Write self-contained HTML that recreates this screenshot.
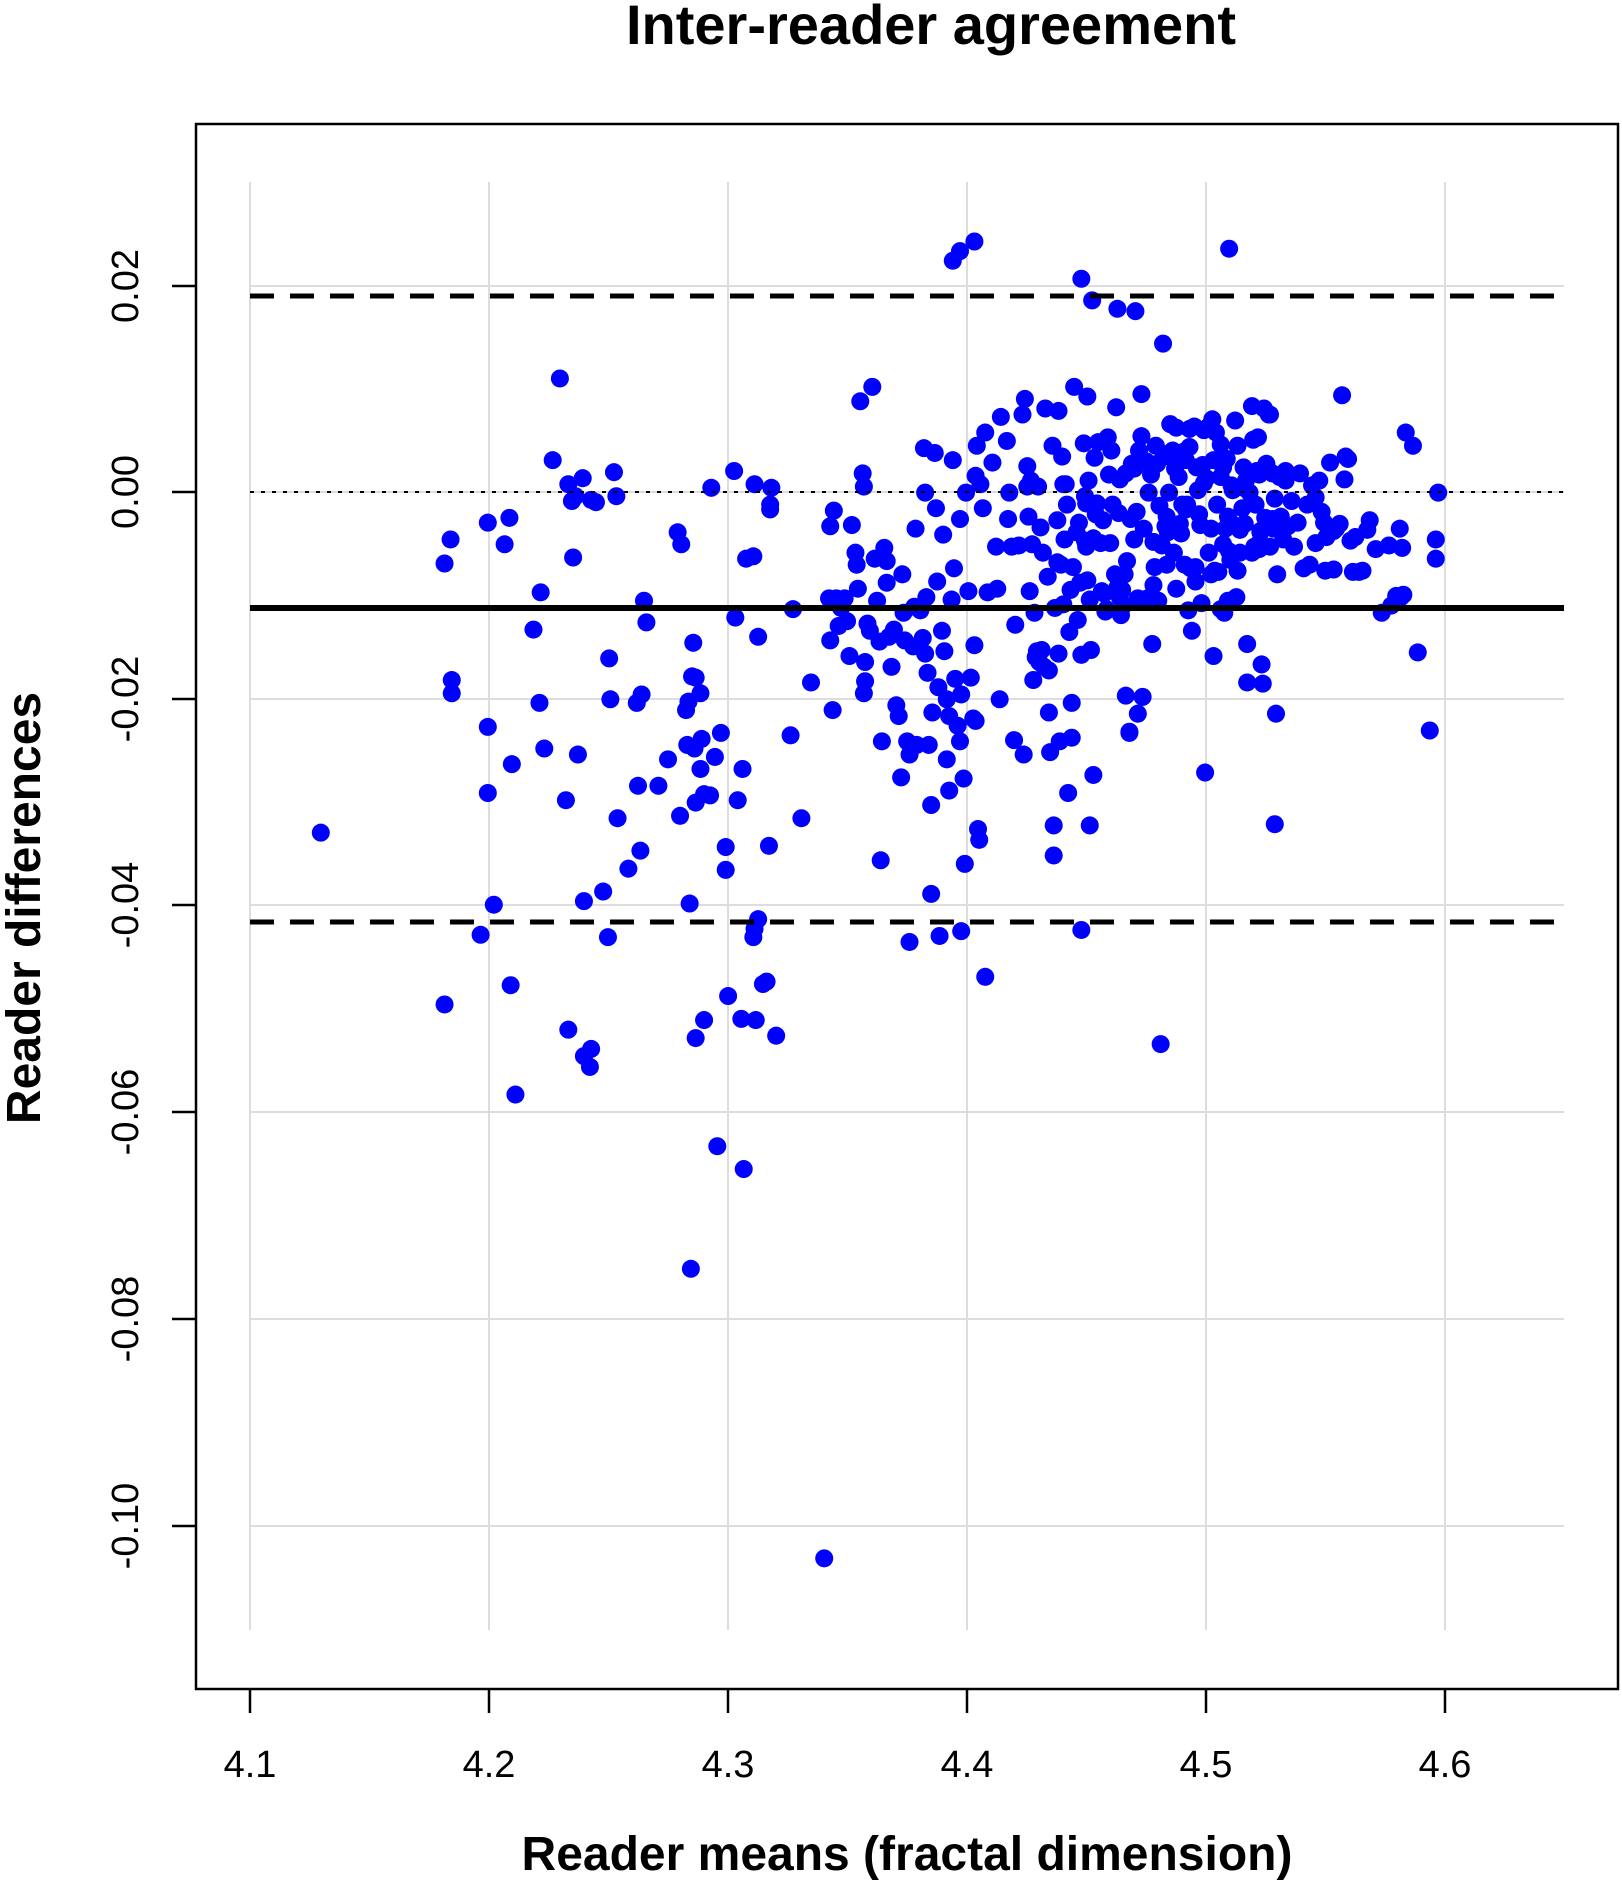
<!DOCTYPE html>
<html><head><meta charset="utf-8"><style>
html,body{margin:0;padding:0;background:#fff;}
svg{display:block;}
text{font-family:"Liberation Sans",Arial,sans-serif;fill:#000;}
</style></head><body>
<svg width="1622" height="1888" viewBox="0 0 1622 1888" xmlns="http://www.w3.org/2000/svg">
<rect width="1622" height="1888" fill="#fff"/>
<text x="931" y="44" font-size="56" font-weight="bold" text-anchor="middle">Inter-reader agreement</text>
<g stroke="#dddddd" stroke-width="2">
<line x1="250" y1="182" x2="250" y2="1630"/><line x1="489" y1="182" x2="489" y2="1630"/>
<line x1="728" y1="182" x2="728" y2="1630"/><line x1="967" y1="182" x2="967" y2="1630"/>
<line x1="1206" y1="182" x2="1206" y2="1630"/><line x1="1445" y1="182" x2="1445" y2="1630"/>
<line x1="250" y1="286" x2="1564" y2="286"/><line x1="250" y1="492" x2="1564" y2="492"/>
<line x1="250" y1="699" x2="1564" y2="699"/><line x1="250" y1="905" x2="1564" y2="905"/>
<line x1="250" y1="1112" x2="1564" y2="1112"/><line x1="250" y1="1319" x2="1564" y2="1319"/>
<line x1="250" y1="1526" x2="1564" y2="1526"/>
</g>
<g transform="scale(1.2015)" fill="#0000ff">
<circle cx="267" cy="693" r="7.5"/><circle cx="370" cy="469" r="7.5"/><circle cx="375" cy="449" r="7.5"/><circle cx="376" cy="566" r="7.5"/><circle cx="376" cy="577" r="7.5"/><circle cx="370" cy="836" r="7.5"/><circle cx="406" cy="435" r="7.5"/><circle cx="420" cy="453" r="7.5"/><circle cx="424" cy="431" r="7.5"/><circle cx="406" cy="605" r="7.5"/><circle cx="406" cy="660" r="7.5"/><circle cx="411" cy="753" r="7.5"/><circle cx="400" cy="778" r="7.5"/><circle cx="426" cy="636" r="7.5"/><circle cx="425" cy="820" r="7.5"/><circle cx="429" cy="911" r="7.5"/><circle cx="444" cy="524" r="7.5"/><circle cx="450" cy="493" r="7.5"/><circle cx="449" cy="585" r="7.5"/><circle cx="453" cy="623" r="7.5"/><circle cx="460" cy="383" r="7.5"/><circle cx="466" cy="315" r="7.5"/><circle cx="471" cy="666" r="7.5"/><circle cx="473" cy="403" r="7.5"/><circle cx="476" cy="417" r="7.5"/><circle cx="477" cy="464" r="7.5"/><circle cx="479" cy="413" r="7.5"/><circle cx="481" cy="628" r="7.5"/><circle cx="485" cy="398" r="7.5"/><circle cx="486" cy="750" r="7.5"/><circle cx="492" cy="416" r="7.5"/><circle cx="496" cy="418" r="7.5"/><circle cx="486" cy="879" r="7.5"/><circle cx="492" cy="873" r="7.5"/><circle cx="491" cy="888" r="7.5"/><circle cx="473" cy="857" r="7.5"/><circle cx="502" cy="742" r="7.5"/><circle cx="507" cy="548" r="7.5"/><circle cx="508" cy="582" r="7.5"/><circle cx="506" cy="780" r="7.5"/><circle cx="511" cy="393" r="7.5"/><circle cx="513" cy="413" r="7.5"/><circle cx="514" cy="681" r="7.5"/><circle cx="523" cy="723" r="7.5"/><circle cx="530" cy="585" r="7.5"/><circle cx="531" cy="654" r="7.5"/><circle cx="533" cy="708" r="7.5"/><circle cx="534" cy="578" r="7.5"/><circle cx="536" cy="500" r="7.5"/><circle cx="538" cy="518" r="7.5"/><circle cx="548" cy="654" r="7.5"/><circle cx="556" cy="632" r="7.5"/><circle cx="564" cy="443" r="7.5"/><circle cx="567" cy="453" r="7.5"/><circle cx="566" cy="679" r="7.5"/><circle cx="571" cy="591" r="7.5"/><circle cx="572" cy="620" r="7.5"/><circle cx="573" cy="584" r="7.5"/><circle cx="577" cy="535" r="7.5"/><circle cx="579" cy="564" r="7.5"/><circle cx="583" cy="640" r="7.5"/><circle cx="576" cy="563" r="7.5"/><circle cx="578" cy="623" r="7.5"/><circle cx="579" cy="668" r="7.5"/><circle cx="583" cy="577" r="7.5"/><circle cx="584" cy="615" r="7.5"/><circle cx="586" cy="661" r="7.5"/><circle cx="591" cy="662" r="7.5"/><circle cx="574" cy="752" r="7.5"/><circle cx="575" cy="1056" r="7.5"/><circle cx="579" cy="864" r="7.5"/><circle cx="586" cy="849" r="7.5"/><circle cx="592" cy="406" r="7.5"/><circle cx="595" cy="630" r="7.5"/><circle cx="597" cy="954" r="7.5"/><circle cx="600" cy="610" r="7.5"/><circle cx="604" cy="705" r="7.5"/><circle cx="604" cy="724" r="7.5"/><circle cx="606" cy="829" r="7.5"/><circle cx="611" cy="392" r="7.5"/><circle cx="612" cy="514" r="7.5"/><circle cx="614" cy="666" r="7.5"/><circle cx="618" cy="640" r="7.5"/><circle cx="617" cy="848" r="7.5"/><circle cx="619" cy="973" r="7.5"/><circle cx="621" cy="465" r="7.5"/><circle cx="627" cy="463" r="7.5"/><circle cx="627" cy="780" r="7.5"/><circle cx="629" cy="849" r="7.5"/><circle cx="628" cy="403" r="7.5"/><circle cx="631" cy="530" r="7.5"/><circle cx="635" cy="819" r="7.5"/><circle cx="638" cy="817" r="7.5"/><circle cx="641" cy="420" r="7.5"/><circle cx="642" cy="406" r="7.5"/><circle cx="641" cy="424" r="7.5"/><circle cx="640" cy="704" r="7.5"/><circle cx="646" cy="862" r="7.5"/><circle cx="631" cy="765" r="7.5"/><circle cx="628" cy="773" r="7.5"/><circle cx="658" cy="612" r="7.5"/><circle cx="660" cy="507" r="7.5"/><circle cx="667" cy="681" r="7.5"/><circle cx="675" cy="568" r="7.5"/><circle cx="686" cy="1297" r="7.5"/><circle cx="691" cy="438" r="7.5"/><circle cx="691" cy="533" r="7.5"/><circle cx="693" cy="591" r="7.5"/><circle cx="690" cy="498" r="7.5"/><circle cx="694" cy="425" r="7.5"/>
<circle cx="696" cy="498" r="7.5"/><circle cx="698" cy="521" r="7.5"/><circle cx="700" cy="506" r="7.5"/><circle cx="703" cy="498" r="7.5"/><circle cx="705" cy="517" r="7.5"/><circle cx="707" cy="546" r="7.5"/><circle cx="709" cy="437" r="7.5"/><circle cx="712" cy="460" r="7.5"/><circle cx="713" cy="470" r="7.5"/><circle cx="714" cy="490" r="7.5"/><circle cx="716" cy="334" r="7.5"/><circle cx="718" cy="394" r="7.5"/><circle cx="719" cy="405" r="7.5"/><circle cx="719" cy="577" r="7.5"/><circle cx="720" cy="551" r="7.5"/><circle cx="720" cy="567" r="7.5"/><circle cx="722" cy="519" r="7.5"/><circle cx="724" cy="525" r="7.5"/><circle cx="726" cy="322" r="7.5"/><circle cx="728" cy="465" r="7.5"/><circle cx="730" cy="500" r="7.5"/><circle cx="732" cy="534" r="7.5"/><circle cx="733" cy="716" r="7.5"/><circle cx="734" cy="617" r="7.5"/><circle cx="736" cy="456" r="7.5"/><circle cx="738" cy="467" r="7.5"/><circle cx="738" cy="485" r="7.5"/><circle cx="740" cy="530" r="7.5"/><circle cx="742" cy="555" r="7.5"/><circle cx="744" cy="524" r="7.5"/><circle cx="746" cy="587" r="7.5"/><circle cx="748" cy="596" r="7.5"/><circle cx="750" cy="647" r="7.5"/><circle cx="751" cy="478" r="7.5"/><circle cx="752" cy="510" r="7.5"/><circle cx="753" cy="533" r="7.5"/><circle cx="755" cy="617" r="7.5"/><circle cx="757" cy="628" r="7.5"/><circle cx="757" cy="784" r="7.5"/><circle cx="760" cy="538" r="7.5"/><circle cx="761" cy="505" r="7.5"/><circle cx="762" cy="440" r="7.5"/><circle cx="763" cy="620" r="7.5"/><circle cx="766" cy="508" r="7.5"/><circle cx="768" cy="531" r="7.5"/><circle cx="769" cy="373" r="7.5"/><circle cx="770" cy="410" r="7.5"/><circle cx="770" cy="544" r="7.5"/><circle cx="771" cy="497" r="7.5"/><circle cx="772" cy="560" r="7.5"/><circle cx="773" cy="620" r="7.5"/><circle cx="775" cy="670" r="7.5"/><circle cx="775" cy="744" r="7.5"/><circle cx="776" cy="593" r="7.5"/><circle cx="778" cy="377" r="7.5"/><circle cx="779" cy="423" r="7.5"/><circle cx="780" cy="484" r="7.5"/><circle cx="781" cy="572" r="7.5"/><circle cx="782" cy="779" r="7.5"/><circle cx="784" cy="525" r="7.5"/><circle cx="785" cy="445" r="7.5"/><circle cx="786" cy="542" r="7.5"/><circle cx="788" cy="582" r="7.5"/><circle cx="788" cy="632" r="7.5"/><circle cx="790" cy="596" r="7.5"/><circle cx="790" cy="658" r="7.5"/><circle cx="792" cy="499" r="7.5"/><circle cx="793" cy="383" r="7.5"/><circle cx="794" cy="473" r="7.5"/><circle cx="795" cy="565" r="7.5"/><circle cx="797" cy="604" r="7.5"/><circle cx="799" cy="432" r="7.5"/><circle cx="799" cy="617" r="7.5"/><circle cx="800" cy="578" r="7.5"/><circle cx="800" cy="775" r="7.5"/><circle cx="802" cy="648" r="7.5"/><circle cx="803" cy="719" r="7.5"/><circle cx="804" cy="410" r="7.5"/><circle cx="806" cy="492" r="7.5"/><circle cx="808" cy="564" r="7.5"/><circle cx="810" cy="598" r="7.5"/><circle cx="811" cy="537" r="7.5"/><circle cx="812" cy="600" r="7.5"/><circle cx="812" cy="396" r="7.5"/><circle cx="813" cy="371" r="7.5"/><circle cx="814" cy="690" r="7.5"/><circle cx="815" cy="699" r="7.5"/><circle cx="816" cy="403" r="7.5"/><circle cx="818" cy="423" r="7.5"/><circle cx="820" cy="813" r="7.5"/><circle cx="820" cy="360" r="7.5"/><circle cx="822" cy="493" r="7.5"/><circle cx="826" cy="385" r="7.5"/><circle cx="829" cy="455" r="7.5"/><circle cx="830" cy="490" r="7.5"/><circle cx="832" cy="582" r="7.5"/><circle cx="833" cy="347" r="7.5"/><circle cx="838" cy="367" r="7.5"/><circle cx="839" cy="432" r="7.5"/><circle cx="840" cy="410" r="7.5"/><circle cx="842" cy="455" r="7.5"/><circle cx="844" cy="616" r="7.5"/><circle cx="845" cy="520" r="7.5"/><circle cx="848" cy="454" r="7.5"/><circle cx="851" cy="345" r="7.5"/><circle cx="852" cy="628" r="7.5"/><circle cx="853" cy="332" r="7.5"/><circle cx="855" cy="388" r="7.5"/><circle cx="856" cy="430" r="7.5"/><circle cx="857" cy="492" r="7.5"/><circle cx="858" cy="400" r="7.5"/><circle cx="859" cy="453" r="7.5"/><circle cx="860" cy="566" r="7.5"/><circle cx="861" cy="510" r="7.5"/><circle cx="863" cy="542" r="7.5"/><circle cx="864" cy="405" r="7.5"/><circle cx="866" cy="439" r="7.5"/><circle cx="867" cy="541" r="7.5"/><circle cx="868" cy="460" r="7.5"/><circle cx="869" cy="555" r="7.5"/><circle cx="870" cy="340" r="7.5"/><circle cx="872" cy="480" r="7.5"/><circle cx="873" cy="593" r="7.5"/><circle cx="874" cy="626" r="7.5"/><circle cx="876" cy="371" r="7.5"/><circle cx="877" cy="687" r="7.5"/><circle cx="877" cy="712" r="7.5"/><circle cx="878" cy="506" r="7.5"/><circle cx="880" cy="468" r="7.5"/><circle cx="880" cy="433" r="7.5"/><circle cx="881" cy="342" r="7.5"/><circle cx="882" cy="617" r="7.5"/><circle cx="883" cy="470" r="7.5"/><circle cx="884" cy="380" r="7.5"/><circle cx="885" cy="403" r="7.5"/><circle cx="886" cy="449" r="7.5"/><circle cx="887" cy="403" r="7.5"/><circle cx="888" cy="420" r="7.5"/><circle cx="889" cy="660" r="7.5"/><circle cx="890" cy="526" r="7.5"/><circle cx="891" cy="491" r="7.5"/><circle cx="892" cy="585" r="7.5"/><circle cx="893" cy="472" r="7.5"/><circle cx="894" cy="322" r="7.5"/><circle cx="896" cy="443" r="7.5"/><circle cx="897" cy="516" r="7.5"/><circle cx="898" cy="435" r="7.5"/><circle cx="899" cy="485" r="7.5"/><circle cx="900" cy="774" r="7.5"/><circle cx="900" cy="232" r="7.5"/><circle cx="902" cy="369" r="7.5"/><circle cx="903" cy="413" r="7.5"/><circle cx="904" cy="455" r="7.5"/><circle cx="905" cy="483" r="7.5"/><circle cx="906" cy="400" r="7.5"/><circle cx="907" cy="499" r="7.5"/><circle cx="908" cy="541" r="7.5"/><circle cx="909" cy="250" r="7.5"/><circle cx="910" cy="448" r="7.5"/><circle cx="911" cy="381" r="7.5"/><circle cx="912" cy="428" r="7.5"/><circle cx="913" cy="419" r="7.5"/><circle cx="914" cy="368" r="7.5"/><circle cx="916" cy="452" r="7.5"/><circle cx="917" cy="492" r="7.5"/><circle cx="918" cy="433" r="7.5"/><circle cx="919" cy="494" r="7.5"/><circle cx="920" cy="509" r="7.5"/><circle cx="921" cy="507" r="7.5"/><circle cx="922" cy="364" r="7.5"/><circle cx="923" cy="395" r="7.5"/><circle cx="924" cy="452" r="7.5"/><circle cx="926" cy="420" r="7.5"/><circle cx="928" cy="478" r="7.5"/><circle cx="929" cy="339" r="7.5"/><circle cx="930" cy="489" r="7.5"/><circle cx="931" cy="427" r="7.5"/><circle cx="932" cy="497" r="7.5"/><circle cx="933" cy="512" r="7.5"/><circle cx="934" cy="491" r="7.5"/><circle cx="936" cy="478" r="7.5"/><circle cx="937" cy="394" r="7.5"/><circle cx="938" cy="467" r="7.5"/><circle cx="940" cy="610" r="7.5"/><circle cx="941" cy="432" r="7.5"/><circle cx="942" cy="386" r="7.5"/><circle cx="944" cy="449" r="7.5"/><circle cx="945" cy="259" r="7.5"/><circle cx="947" cy="498" r="7.5"/><circle cx="948" cy="375" r="7.5"/><circle cx="950" cy="328" r="7.5"/><circle cx="951" cy="580" r="7.5"/><circle cx="952" cy="440" r="7.5"/><circle cx="954" cy="384" r="7.5"/><circle cx="955" cy="498" r="7.5"/><circle cx="956" cy="410" r="7.5"/><circle cx="958" cy="395" r="7.5"/><circle cx="959" cy="536" r="7.5"/><circle cx="960" cy="451" r="7.5"/><circle cx="961" cy="472" r="7.5"/><circle cx="962" cy="371" r="7.5"/><circle cx="963" cy="386" r="7.5"/><circle cx="964" cy="500" r="7.5"/><circle cx="965" cy="421" r="7.5"/><circle cx="967" cy="454" r="7.5"/><circle cx="968" cy="286" r="7.5"/><circle cx="969" cy="378" r="7.5"/><circle cx="970" cy="438" r="7.5"/><circle cx="971" cy="430" r="7.5"/><circle cx="972" cy="443" r="7.5"/><circle cx="973" cy="410" r="7.5"/><circle cx="974" cy="353" r="7.5"/><circle cx="975" cy="381" r="7.5"/><circle cx="976" cy="375" r="7.5"/><circle cx="977" cy="460" r="7.5"/><circle cx="978" cy="390" r="7.5"/><circle cx="979" cy="356" r="7.5"/><circle cx="981" cy="397" r="7.5"/><circle cx="982" cy="436" r="7.5"/><circle cx="983" cy="444" r="7.5"/><circle cx="984" cy="420" r="7.5"/><circle cx="985" cy="376" r="7.5"/><circle cx="986" cy="470" r="7.5"/><circle cx="987" cy="424" r="7.5"/><circle cx="988" cy="420" r="7.5"/><circle cx="989" cy="508" r="7.5"/><circle cx="990" cy="372" r="7.5"/><circle cx="991" cy="473" r="7.5"/><circle cx="992" cy="525" r="7.5"/><circle cx="994" cy="355" r="7.5"/><circle cx="995" cy="484" r="7.5"/><circle cx="996" cy="389" r="7.5"/><circle cx="998" cy="428" r="7.5"/><circle cx="1000" cy="502" r="7.5"/><circle cx="1001" cy="387" r="7.5"/><circle cx="1002" cy="402" r="7.5"/><circle cx="1004" cy="398" r="7.5"/><circle cx="1006" cy="355" r="7.5"/><circle cx="1008" cy="440" r="7.5"/><circle cx="1010" cy="383" r="7.5"/><circle cx="1011" cy="475" r="7.5"/><circle cx="1012" cy="360" r="7.5"/><circle cx="1013" cy="420" r="7.5"/><circle cx="1014" cy="476" r="7.5"/><circle cx="1016" cy="397" r="7.5"/><circle cx="1018" cy="453" r="7.5"/><circle cx="1019" cy="510" r="7.5"/><circle cx="1021" cy="382" r="7.5"/><circle cx="1022" cy="430" r="7.5"/><circle cx="1024" cy="466" r="7.5"/><circle cx="1025" cy="404" r="7.5"/><circle cx="1026" cy="408" r="7.5"/><circle cx="1027" cy="437" r="7.5"/><circle cx="1029" cy="497" r="7.5"/><circle cx="1030" cy="475" r="7.5"/><circle cx="1032" cy="441" r="7.5"/><circle cx="1034" cy="423" r="7.5"/><circle cx="1035" cy="406" r="7.5"/><circle cx="1036" cy="436" r="7.5"/><circle cx="1037" cy="400" r="7.5"/><circle cx="1038" cy="536" r="7.5"/><circle cx="1040" cy="410" r="7.5"/><circle cx="1042" cy="338" r="7.5"/><circle cx="1044" cy="455" r="7.5"/><circle cx="1045" cy="420" r="7.5"/><circle cx="1046" cy="392" r="7.5"/><circle cx="1047" cy="364" r="7.5"/><circle cx="1048" cy="452" r="7.5"/><circle cx="1049" cy="442" r="7.5"/><circle cx="1050" cy="553" r="7.5"/><circle cx="1051" cy="569" r="7.5"/><circle cx="1053" cy="431" r="7.5"/><circle cx="1054" cy="386" r="7.5"/><circle cx="1056" cy="345" r="7.5"/><circle cx="1057" cy="455" r="7.5"/><circle cx="1059" cy="394" r="7.5"/><circle cx="1060" cy="440" r="7.5"/><circle cx="1061" cy="415" r="7.5"/><circle cx="1062" cy="594" r="7.5"/><circle cx="1063" cy="478" r="7.5"/><circle cx="1065" cy="397" r="7.5"/><circle cx="1066" cy="430" r="7.5"/><circle cx="1068" cy="449" r="7.5"/><circle cx="1070" cy="400" r="7.5"/><circle cx="1072" cy="438" r="7.5"/><circle cx="1075" cy="417" r="7.5"/><circle cx="1077" cy="455" r="7.5"/><circle cx="1080" cy="435" r="7.5"/><circle cx="1082" cy="394" r="7.5"/><circle cx="1085" cy="473" r="7.5"/><circle cx="1088" cy="420" r="7.5"/><circle cx="1090" cy="470" r="7.5"/><circle cx="1092" cy="404" r="7.5"/><circle cx="1095" cy="414" r="7.5"/><circle cx="1098" cy="400" r="7.5"/><circle cx="1100" cy="426" r="7.5"/><circle cx="1102" cy="435" r="7.5"/><circle cx="1104" cy="447" r="7.5"/><circle cx="1107" cy="385" r="7.5"/><circle cx="1110" cy="442" r="7.5"/><circle cx="1112" cy="440" r="7.5"/><circle cx="1115" cy="436" r="7.5"/><circle cx="1117" cy="329" r="7.5"/><circle cx="1119" cy="399" r="7.5"/><circle cx="1120" cy="380" r="7.5"/><circle cx="1122" cy="382" r="7.5"/><circle cx="1124" cy="450" r="7.5"/><circle cx="1126" cy="476" r="7.5"/><circle cx="1128" cy="447" r="7.5"/><circle cx="1131" cy="476" r="7.5"/><circle cx="1134" cy="475" r="7.5"/><circle cx="1138" cy="441" r="7.5"/><circle cx="1140" cy="433" r="7.5"/><circle cx="1145" cy="457" r="7.5"/><circle cx="1156" cy="454" r="7.5"/><circle cx="1158" cy="504" r="7.5"/><circle cx="1162" cy="496" r="7.5"/><circle cx="1165" cy="440" r="7.5"/><circle cx="1168" cy="495" r="7.5"/><circle cx="1170" cy="360" r="7.5"/><circle cx="1176" cy="371" r="7.5"/><circle cx="1180" cy="543" r="7.5"/><circle cx="1190" cy="608" r="7.5"/><circle cx="1195" cy="449" r="7.5"/><circle cx="1195" cy="465" r="7.5"/><circle cx="1197" cy="410" r="7.5"/><circle cx="1003" cy="643" r="7.5"/><circle cx="1010" cy="546" r="7.5"/><circle cx="1016" cy="507" r="7.5"/><circle cx="1020" cy="440" r="7.5"/><circle cx="1023" cy="459" r="7.5"/><circle cx="1035" cy="389" r="7.5"/><circle cx="1030" cy="371" r="7.5"/><circle cx="1038" cy="568" r="7.5"/><circle cx="1048" cy="395" r="7.5"/><circle cx="1052" cy="340" r="7.5"/><circle cx="1057" cy="345" r="7.5"/><circle cx="1061" cy="686" r="7.5"/><circle cx="1059" cy="432" r="7.5"/><circle cx="1070" cy="392" r="7.5"/><circle cx="1023" cy="207" r="7.5"/><circle cx="966" cy="869" r="7.5"/><circle cx="940" cy="609" r="7.5"/><circle cx="937" cy="579" r="7.5"/><circle cx="935" cy="504" r="7.5"/><circle cx="932" cy="399" r="7.5"/><circle cx="925" cy="375" r="7.5"/><circle cx="910" cy="645" r="7.5"/><circle cx="907" cy="687" r="7.5"/><circle cx="905" cy="330" r="7.5"/><circle cx="904" cy="419" r="7.5"/><circle cx="903" cy="450" r="7.5"/><circle cx="900" cy="545" r="7.5"/><circle cx="892" cy="614" r="7.5"/><circle cx="885" cy="503" r="7.5"/><circle cx="881" cy="544" r="7.5"/><circle cx="873" cy="558" r="7.5"/><circle cx="865" cy="551" r="7.5"/><circle cx="862" cy="547" r="7.5"/><circle cx="855" cy="405" r="7.5"/><circle cx="930" cy="257" r="7.5"/><circle cx="947" cy="594" r="7.5"/><circle cx="990" cy="357" r="7.5"/><circle cx="1095" cy="452" r="7.5"/><circle cx="1103" cy="475" r="7.5"/><circle cx="1110" cy="474" r="7.5"/><circle cx="1150" cy="510" r="7.5"/><circle cx="1166" cy="497" r="7.5"/><circle cx="1167" cy="456" r="7.5"/><circle cx="1048" cy="457" r="7.5"/><circle cx="1032" cy="460" r="7.5"/><circle cx="1022" cy="500" r="7.5"/><circle cx="1016" cy="370" r="7.5"/><circle cx="1008" cy="478" r="7.5"/><circle cx="1006" cy="460" r="7.5"/><circle cx="944" cy="390" r="7.5"/><circle cx="946" cy="426" r="7.5"/><circle cx="950" cy="363" r="7.5"/><circle cx="960" cy="487" r="7.5"/><circle cx="971" cy="470" r="7.5"/><circle cx="979" cy="490" r="7.5"/><circle cx="987" cy="383" r="7.5"/><circle cx="995" cy="472" r="7.5"/><circle cx="997" cy="408" r="7.5"/><circle cx="999" cy="437" r="7.5"/><circle cx="1002" cy="358" r="7.5"/><circle cx="1028" cy="350" r="7.5"/><circle cx="1009" cy="349" r="7.5"/><circle cx="1018" cy="389" r="7.5"/><circle cx="1043" cy="366" r="7.5"/><circle cx="1049" cy="443" r="7.5"/><circle cx="1042" cy="460" r="7.5"/><circle cx="793" cy="217" r="7.5"/><circle cx="799" cy="209" r="7.5"/><circle cx="811" cy="201" r="7.5"/>
</g>
<line x1="250" y1="492" x2="1564" y2="492" stroke="#000" stroke-width="2" stroke-dasharray="4,7"/>
<line x1="250" y1="296" x2="1564" y2="296" stroke="#000" stroke-width="5" stroke-dasharray="24,16"/>
<line x1="250" y1="922" x2="1564" y2="922" stroke="#000" stroke-width="5" stroke-dasharray="24,16"/>
<line x1="250" y1="608" x2="1564" y2="608" stroke="#000" stroke-width="6"/>
<rect x="196" y="124" width="1422" height="1565" fill="none" stroke="#000" stroke-width="2.5"/>
<g stroke="#000" stroke-width="2.5">
<line x1="250" y1="1689" x2="250" y2="1713"/><line x1="489" y1="1689" x2="489" y2="1713"/>
<line x1="728" y1="1689" x2="728" y2="1713"/><line x1="967" y1="1689" x2="967" y2="1713"/>
<line x1="1206" y1="1689" x2="1206" y2="1713"/><line x1="1445" y1="1689" x2="1445" y2="1713"/>
<line x1="172" y1="286" x2="196" y2="286"/><line x1="172" y1="492" x2="196" y2="492"/>
<line x1="172" y1="699" x2="196" y2="699"/><line x1="172" y1="905" x2="196" y2="905"/>
<line x1="172" y1="1112" x2="196" y2="1112"/><line x1="172" y1="1319" x2="196" y2="1319"/>
<line x1="172" y1="1526" x2="196" y2="1526"/>
</g>
<g font-size="38" text-anchor="middle">
<text x="250" y="1777">4.1</text><text x="489" y="1777">4.2</text><text x="728" y="1777">4.3</text>
<text x="967" y="1777">4.4</text><text x="1206" y="1777">4.5</text><text x="1445" y="1777">4.6</text>
</g>
<g font-size="38" text-anchor="middle">
<text transform="translate(138,286) rotate(-90)">0.02</text>
<text transform="translate(138,492) rotate(-90)">0.00</text>
<text transform="translate(138,699) rotate(-90)">-0.02</text>
<text transform="translate(138,905) rotate(-90)">-0.04</text>
<text transform="translate(138,1112) rotate(-90)">-0.06</text>
<text transform="translate(138,1319) rotate(-90)">-0.08</text>
<text transform="translate(138,1526) rotate(-90)">-0.10</text>
</g>
<text x="907" y="1870" font-size="48" font-weight="bold" text-anchor="middle">Reader means (fractal dimension)</text>
<text transform="translate(40,908) rotate(-90)" font-size="48" font-weight="bold" text-anchor="middle">Reader differences</text>
</svg>
</body></html>
